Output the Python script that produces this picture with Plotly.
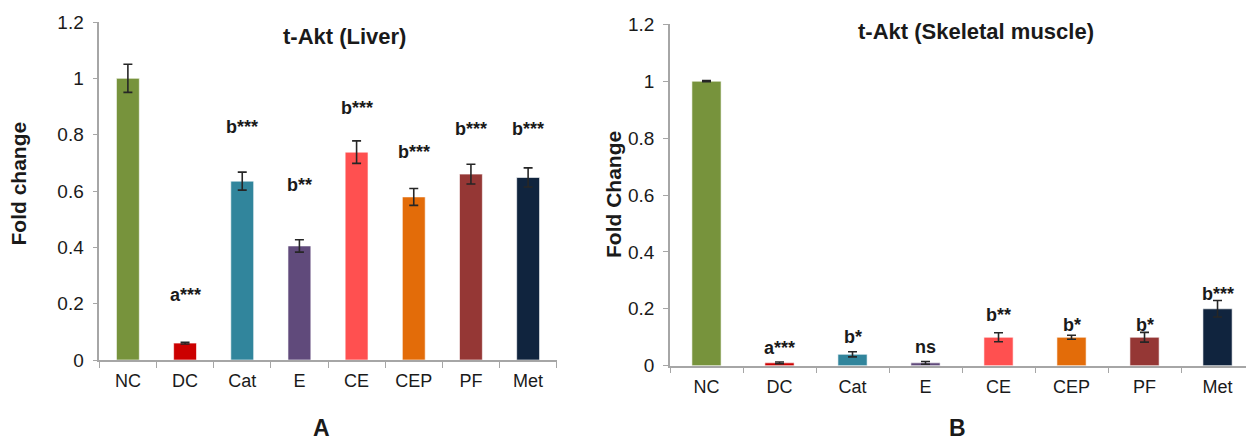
import plotly.graph_objects as go

# ---------------- data ----------------
groups = ["NC", "DC", "Cat", "E", "CE", "CEP", "PF", "Met"]
bar_colors = ["#77933C", "#CC0000", "#31859C", "#604A7B",
              "#FF5050", "#E36C09", "#953735", "#10243E"]

liver_values = [1.0, 0.06, 0.635, 0.405, 0.738, 0.579, 0.66, 0.648]
liver_errors = [0.05, 0.003, 0.032, 0.022, 0.04, 0.03, 0.035, 0.034]
liver_sig = ["", "a***", "b***", "b**", "b***", "b***", "b***", "b***"]
liver_sig_y = [None, 0.231, 0.828, 0.621, 0.893, 0.739, 0.819, 0.819]

muscle_values = [1.0, 0.01, 0.04, 0.01, 0.1, 0.1, 0.1, 0.2]
muscle_errors = [0.002, 0.003, 0.009, 0.005, 0.016, 0.007, 0.017, 0.029]
muscle_sig = ["", "a***", "b*", "ns", "b**", "b*", "b*", "b***"]
muscle_sig_y = [None, 0.061, 0.102, 0.067, 0.178, 0.143, 0.143, 0.252]

y_ticks = [0, 0.2, 0.4, 0.6, 0.8, 1, 1.2]
y_tick_text = ["0", "0.2", "0.4", "0.6", "0.8", "1", "1.2"]

# ---------------- figure ----------------
W, H = 1246, 442
FONT = "Arial, Liberation Sans, sans-serif"
AXIS_COL = "#A6A6A6"
TXT = "#1a1a1a"

fig = go.Figure()

def add_panel(values, errors, xa, ya):
    fig.add_trace(go.Bar(
        x=groups, y=values, width=0.4,
        marker=dict(color=bar_colors, line=dict(color="rgba(255,255,255,0.6)", width=1)),
        error_y=dict(type="data", array=errors, visible=True,
                     color="#262626", thickness=1.6, width=4.5),
        xaxis=xa, yaxis=ya, showlegend=False, hoverinfo="x+y",
    ))

add_panel(liver_values, liver_errors, "x", "y")
add_panel(muscle_values, muscle_errors, "x2", "y2")

def xaxis_style(domain, rng, anchor):
    return dict(domain=domain, range=rng, type="category", anchor=anchor,
                automargin=False,
                showline=True, linecolor=AXIS_COL, linewidth=1.5,
                ticks="outside", tickson="boundaries", ticklen=6,
                tickcolor=AXIS_COL, tickwidth=1.2,
                showgrid=False, zeroline=False,
                tickfont=dict(family=FONT, size=18, color=TXT),
                ticklabelstandoff=4, fixedrange=True)

def yaxis_style(domain, anchor):
    return dict(domain=domain, range=[0, 1.2], anchor=anchor,
                automargin=False,
                tickvals=y_ticks, ticktext=y_tick_text,
                showline=True, linecolor=AXIS_COL, linewidth=1.5,
                ticks="outside", ticklen=5, tickcolor=AXIS_COL, tickwidth=1.2,
                showgrid=False, zeroline=False,
                tickfont=dict(family=FONT, size=19, color=TXT),
                ticklabelstandoff=5, fixedrange=True)

# pixel geometry -> paper domains
lx0, lx1 = 99.3 / W, 556.7 / W
ly0, ly1 = (H - 360) / H, (H - 22) / H
rx0, rx1 = 670 / W, 1.0
ry0, ry1 = (H - 365.7) / H, (H - 24.3) / H

fig.update_layout(
    width=W, height=H,
    margin=dict(l=0, r=0, t=0, b=0, autoexpand=False),
    paper_bgcolor="white", plot_bgcolor="white",
    xaxis=xaxis_style([lx0, lx1], [-0.5, 7.5], "y"),
    yaxis=yaxis_style([ly0, ly1], "x"),
    xaxis2=xaxis_style([rx0, rx1], [-0.5, 7.39], "y2"),
    yaxis2=yaxis_style([ry0, ry1], "x2"),
    font=dict(family=FONT, color=TXT),
)

annotations = []
# significance labels
for g, s, yy in zip(groups, liver_sig, liver_sig_y):
    if s:
        annotations.append(dict(x=g, y=yy, xref="x", yref="y", text=f"<b>{s}</b>",
                                showarrow=False, yanchor="middle",
                                font=dict(family=FONT, size=18, color=TXT)))
for g, s, yy in zip(groups, muscle_sig, muscle_sig_y):
    if s:
        annotations.append(dict(x=g, y=yy, xref="x2", yref="y2", text=f"<b>{s}</b>",
                                showarrow=False, yanchor="middle",
                                font=dict(family=FONT, size=18, color=TXT)))

def paper_text(px, py, text, size, angle=0, yanchor="middle"):
    return dict(x=px / W, y=(H - py) / H, xref="paper", yref="paper",
                text=f"<b>{text}</b>", showarrow=False, textangle=angle,
                xanchor="center", yanchor=yanchor,
                font=dict(family=FONT, size=size, color=TXT))

annotations += [
    paper_text(344.7, 36, "t-Akt (Liver)", 22),
    paper_text(976, 32, "t-Akt (Skeletal muscle)", 22),
    paper_text(18.5, 184, "Fold change", 21, -90),
    paper_text(613, 195, "Fold Change", 21, -90),
    paper_text(321.7, 443, "A", 23, yanchor="bottom"),
    paper_text(957, 443, "B", 23, yanchor="bottom"),
]
fig.update_layout(annotations=annotations)

fig.write_html(
    "out.html",
    config={"displayModeBar": False},
    post_script="document.body.style.margin='0';document.body.style.overflow='hidden';",
)
